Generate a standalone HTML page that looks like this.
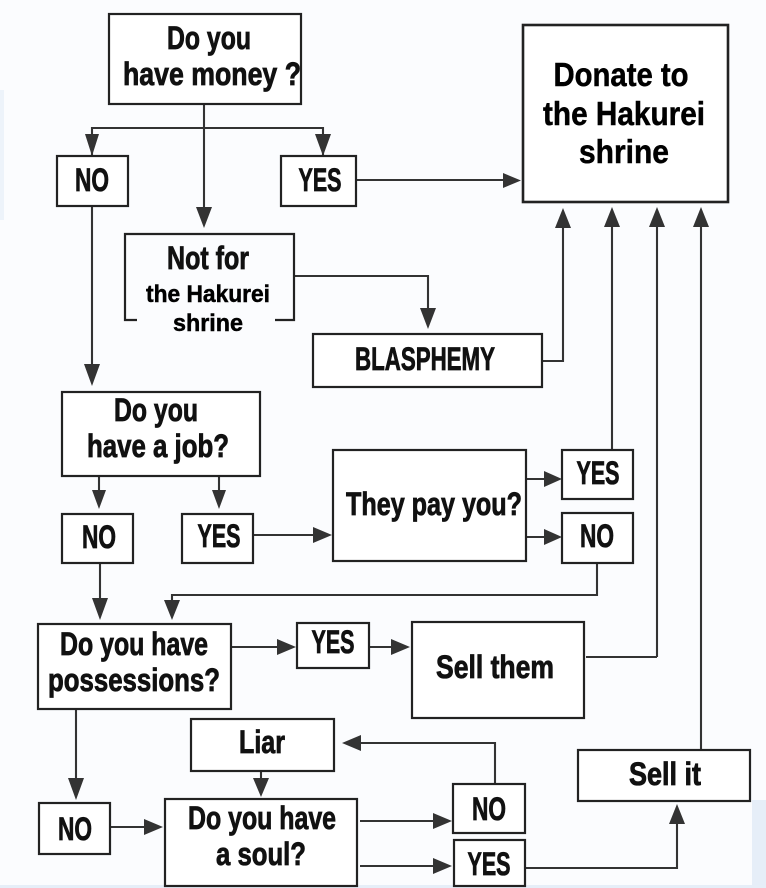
<!DOCTYPE html>
<html><head><meta charset="utf-8"><style>
html,body{margin:0;padding:0;background:#fff;width:766px;height:888px;overflow:hidden}
svg{display:block}
text{font-family:"Liberation Sans",sans-serif;font-weight:bold;fill:#111;text-anchor:middle;stroke:#111;stroke-width:.8px;font-size:32px}
text.b{fill:#000;stroke:#000;stroke-width:.5px}
rect{fill:#fff;stroke:#222;stroke-width:2.2}
path{fill:none;stroke:#333;stroke-width:2.1}
path.h{fill:#333;stroke:none}
</style></head><body>
<svg width="766" height="888" viewBox="0 0 766 888" xmlns="http://www.w3.org/2000/svg">
<rect x="0" y="0" width="766" height="888" style="fill:#fbfcfe;stroke:none"/>
<rect x="0" y="885" width="766" height="3" style="fill:#e6eef8;stroke:none"/>
<rect x="0" y="90" width="4" height="130" style="fill:#edf3fa;stroke:none"/>
<rect x="752" y="800" width="14" height="88" style="fill:#e6eef8;stroke:none"/>
<!-- connectors -->
<path d="M204 104V215M92 155V128H323V155M92 206V372M356 180H505M295 276H428V315M542 361H563V222M612 449V222M657 657V222M586 657H657M701 749V222M99 476V497M219 476V497M100 563V605M254 535H316M526 479H547M526 537H547M597 563V595H172V606M232 647H281M369 647H395M76 709V785M111 827H148M261 771V784M360 821H436M360 866H436M495 783V743H358M526 868H677V820"/>
<!-- arrowheads -->
<path class="h" d="M92 134l-7-0 7 22 7-22zM323 134l-8 0 8 22 8-22zM204 207l-8 0 8 21 8-21zM92 364l-8 0 8 22 8-22zM503 173l0 15 18-7.500zM428 308l-8 0 8 21 8-21zM563 208l-8 20h16zM612 207l-8 20h16zM657 207l-8 20h16zM701 207l-8 20h16zM99 490l-7 0 7 19 7-19zM219 490l-7 0 7 19 7-19zM100 598l-8 0 8 22 8-22zM172 600l-8 0 8 20 8-20zM313 527v16l19-8zM544 471v16l18-8zM544 529v16l18-8zM277 639v16l19-8zM391 639v16l19-8zM76 778l-8 0 8 22 8-22zM144 819v16l19-8zM261 778l-8 0 8 19 8-19zM433 813v16l19-8zM433 858v16l19-8zM361 735v16l-19-8zM677 804l-8 20h16z"/>
<!-- boxes -->
<rect x="109" y="14" width="192" height="90"/>
<rect x="523" y="25" width="205" height="177" style="stroke-width:2.6"/>
<rect x="57" y="156" width="71" height="50"/>
<rect x="281" y="156" width="75" height="50"/>
<rect x="313" y="334" width="229" height="53"/>
<rect x="62" y="392" width="198" height="84"/>
<rect x="62" y="514" width="71" height="49"/>
<rect x="182" y="514" width="71" height="49"/>
<rect x="333" y="450" width="193" height="111"/>
<rect x="562" y="450" width="71" height="49"/>
<rect x="562" y="513" width="71" height="50"/>
<rect x="38" y="624" width="193" height="85"/>
<rect x="297" y="623" width="72" height="45"/>
<rect x="412" y="622" width="172" height="96"/>
<rect x="191" y="719" width="143" height="52"/>
<rect x="578" y="750" width="172" height="51"/>
<rect x="39" y="803" width="71" height="51"/>
<rect x="165" y="799" width="192" height="87"/>
<rect x="453" y="784" width="72" height="49"/>
<rect x="454" y="840" width="71" height="46"/>
<!-- bracket box -->
<path d="M137 320H125V234H294V320H275" style="stroke:#222;stroke-width:2.2"/>
<!-- labels -->
<text x="209" y="49" textLength="84" lengthAdjust="spacingAndGlyphs">Do you</text>
<text x="212" y="85" textLength="178" lengthAdjust="spacingAndGlyphs">have money ?</text>
<text class="b" x="621" y="86" textLength="135" lengthAdjust="spacingAndGlyphs" style="font-size:33px">Donate to</text>
<text class="b" x="624" y="125" textLength="162" lengthAdjust="spacingAndGlyphs" style="font-size:33px">the Hakurei</text>
<text class="b" x="624" y="163" textLength="90" lengthAdjust="spacingAndGlyphs" style="font-size:33px">shrine</text>
<text x="92" y="191" textLength="34" lengthAdjust="spacingAndGlyphs">NO</text>
<text x="320" y="191" textLength="43" lengthAdjust="spacingAndGlyphs">YES</text>
<text x="208" y="269" textLength="82" lengthAdjust="spacingAndGlyphs">Not for</text>
<text class="b" x="208" y="302" textLength="124" lengthAdjust="spacingAndGlyphs" style="font-size:24px">the Hakurei</text>
<text class="b" x="208" y="331" textLength="70" lengthAdjust="spacingAndGlyphs" style="font-size:24px">shrine</text>
<text x="425" y="370" textLength="140" lengthAdjust="spacingAndGlyphs">BLASPHEMY</text>
<text x="156" y="421" textLength="84" lengthAdjust="spacingAndGlyphs">Do you</text>
<text x="158" y="457" textLength="142" lengthAdjust="spacingAndGlyphs">have a job?</text>
<text x="99" y="548" textLength="34" lengthAdjust="spacingAndGlyphs">NO</text>
<text x="219" y="547" textLength="43" lengthAdjust="spacingAndGlyphs">YES</text>
<text x="434" y="515" textLength="176" lengthAdjust="spacingAndGlyphs">They pay you?</text>
<text x="598" y="484" textLength="43" lengthAdjust="spacingAndGlyphs">YES</text>
<text x="597" y="547" textLength="34" lengthAdjust="spacingAndGlyphs">NO</text>
<text x="134" y="655" textLength="148" lengthAdjust="spacingAndGlyphs">Do you have</text>
<text x="134" y="691" textLength="172" lengthAdjust="spacingAndGlyphs">possessions?</text>
<text x="333" y="653" textLength="43" lengthAdjust="spacingAndGlyphs">YES</text>
<text x="495" y="678" textLength="118" lengthAdjust="spacingAndGlyphs">Sell them</text>
<text x="262" y="753" textLength="46" lengthAdjust="spacingAndGlyphs">Liar</text>
<text x="665" y="785" textLength="72" lengthAdjust="spacingAndGlyphs">Sell it</text>
<text x="75" y="840" textLength="34" lengthAdjust="spacingAndGlyphs">NO</text>
<text x="262" y="829" textLength="148" lengthAdjust="spacingAndGlyphs">Do you have</text>
<text x="261" y="865" textLength="90" lengthAdjust="spacingAndGlyphs">a soul?</text>
<text x="489" y="820" textLength="34" lengthAdjust="spacingAndGlyphs">NO</text>
<text x="489" y="875" textLength="43" lengthAdjust="spacingAndGlyphs">YES</text>
</svg>
</body></html>
